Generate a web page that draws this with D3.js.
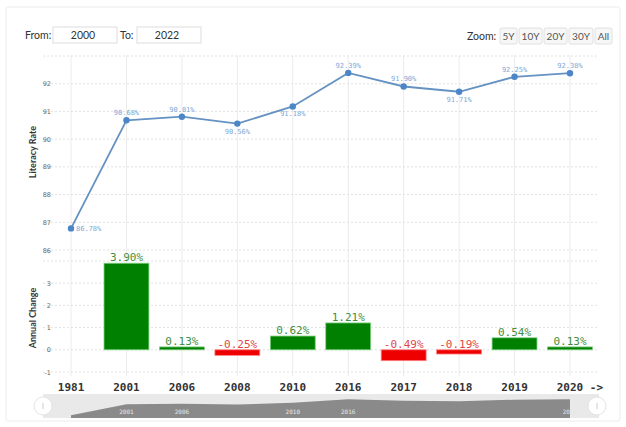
<!DOCTYPE html>
<html>
<head>
<meta charset="utf-8">
<script src="https://cdn.jsdelivr.net/npm/d3@7"></script>
<style>
  body { margin: 0; background: #fff; }
  svg { display: block; }
</style>
</head>
<body>
<svg width="626" height="427"></svg>
<script>
const YEARS = ['1981', '2001', '2006', '2008', '2010', '2016', '2017', '2018', '2019', '2020'];
const LITERACY = [86.78, 90.68, 90.81, 90.56, 91.18, 92.39, 91.90, 91.71, 92.25, 92.38];
const CHANGE = [null, 3.90, 0.13, -0.25, 0.62, 1.21, -0.49, -0.19, 0.54, 0.13];
const LABEL_SIDE = ['right', 'above', 'above', 'below', 'below', 'above', 'above', 'below', 'above', 'above'];
const RATE_TICKS = [86, 87, 88, 89, 90, 91, 92];
const CHANGE_TICKS = [-1, 0, 1, 2, 3];
const NAV_LABELS = ['2001', '2006', '2010', '2016', '2020'];
const ZOOM_BUTTONS = ['5Y', '10Y', '20Y', '30Y', 'All'];

const mono = "'DejaVu Sans Mono', monospace";
const sans = "Lato, 'Open Sans', sans-serif";

const svg = d3.select('svg');

// card
svg.append('rect')
    .attr('x', 6).attr('y', 7).attr('width', 614).attr('height', 414)
    .attr('rx', 2)
    .attr('fill', '#fff').attr('stroke', '#ececec');

// from / to inputs
const header = svg.append('g').attr('font-family', sans).attr('font-size', 10.5).attr('fill', '#333');
header.append('text').attr('x', 25).attr('y', 39).text('From:');
header.append('text').attr('x', 120).attr('y', 39).text('To:');
[[53, '2000'], [137, '2022']].forEach(([x, t]) => {
    header.append('rect').attr('x', x).attr('y', 27).attr('width', 64).attr('height', 16)
        .attr('fill', '#fff').attr('stroke', '#ddd');
    header.append('text').attr('x', x + 30).attr('y', 39).attr('text-anchor', 'middle').text(t);
});

// zoom buttons
header.append('text').attr('x', 467).attr('y', 40).text('Zoom:');
const btnW = [17, 23, 23, 24, 17];
let bx = 500;
ZOOM_BUTTONS.forEach((b, i) => {
    header.append('rect').attr('x', bx).attr('y', 28).attr('width', btnW[i]).attr('height', 16)
        .attr('rx', 2).attr('fill', '#f7f7f7').attr('stroke', '#e0e0e0');
    header.append('text').attr('x', bx + btnW[i] / 2).attr('y', 40)
        .attr('text-anchor', 'middle').attr('fill', '#555').attr('font-size', 10).text(b);
    bx += btnW[i] + 2;
});

// scales
const x = d3.scaleBand().domain(YEARS).range([43.3, 597.7]);
const cx = d => x(d) + x.bandwidth() / 2;
const yRate = d3.scaleLinear().domain([86, 93]).range([250, 56]);
const yChange = d3.scaleLinear().domain([-1, 4]).range([372, 261]);

// vertical grid
svg.append('g').selectAll('line').data(YEARS).join('line')
    .attr('x1', cx).attr('x2', cx).attr('y1', 55).attr('y2', 376)
    .attr('stroke', '#ebebeb');

// horizontal dotted grid
const hgrid = svg.append('g').attr('stroke', '#e2e2e2').attr('stroke-dasharray', '2,2');
hgrid.selectAll('.rg').data(d3.range(86, 94)).join('line')
    .attr('x1', 43).attr('x2', 598).attr('y1', d => yRate(d)).attr('y2', d => yRate(d));
hgrid.selectAll('.cg').data(d3.range(-1, 5)).join('line')
    .attr('x1', 43).attr('x2', 598).attr('y1', d => yChange(d)).attr('y2', d => yChange(d));

// y tick labels
const ticks = svg.append('g').attr('font-family', "'DejaVu Sans', sans-serif").attr('font-size', 6.5)
    .attr('fill', '#666').attr('text-anchor', 'end');
ticks.selectAll('.rt').data(RATE_TICKS).join('text')
    .attr('x', 51).attr('y', d => yRate(d) + 2.5).text(d => d);
ticks.selectAll('.ct').data(CHANGE_TICKS).join('text')
    .attr('x', 51).attr('y', d => yChange(d) + 2.5).text(d => d);

// axis titles
const titles = svg.append('g').attr('font-family', sans).attr('font-size', 9).attr('font-weight', 'bold')
    .attr('fill', '#333').attr('text-anchor', 'middle');
titles.append('text').attr('transform', 'translate(36,152) rotate(-90)').text('Literacy Rate');
titles.append('text').attr('transform', 'translate(36,318) rotate(-90)').text('Annual Change');

// line
const series = YEARS.map((yr, i) => ({ yr, v: LITERACY[i], side: LABEL_SIDE[i] }));
svg.append('path').datum(series)
    .attr('fill', 'none').attr('stroke', '#6592c2').attr('stroke-width', 1.8)
    .attr('d', d3.line().x(d => cx(d.yr)).y(d => yRate(d.v)));
svg.append('g').selectAll('circle').data(series).join('circle')
    .attr('cx', d => cx(d.yr)).attr('cy', d => yRate(d.v)).attr('r', 3.2)
    .attr('fill', '#4a86c8');
svg.append('g').attr('font-family', mono).attr('font-size', 7).attr('fill', '#7ea8d6')
    .selectAll('text').data(series).join('text')
    .attr('x', d => d.side === 'right' ? cx(d.yr) + 5 : cx(d.yr))
    .attr('y', d => d.side === 'above' ? yRate(d.v) - 5 : d.side === 'below' ? yRate(d.v) + 10 : yRate(d.v) + 2.5)
    .attr('text-anchor', d => d.side === 'right' ? 'start' : 'middle')
    .text(d => d.v.toFixed(2) + '%');

// bars
const bars = YEARS.map((yr, i) => ({ yr, v: CHANGE[i] })).filter(d => d.v !== null);
const bw = x.bandwidth() * 0.81;
svg.append('g').selectAll('rect').data(bars).join('rect')
    .attr('x', d => cx(d.yr) - bw / 2)
    .attr('y', d => yChange(Math.max(0, d.v)))
    .attr('width', bw)
    .attr('height', d => Math.max(2, Math.abs(yChange(d.v) - yChange(0))))
    .attr('fill', d => d.v >= 0 ? '#008000' : '#ee0000')
    .attr('stroke', d => d.v >= 0 ? '#7fd07f' : '#ff8080').attr('stroke-width', 0.8);
svg.append('g').attr('font-family', mono).attr('font-size', 11).attr('text-anchor', 'middle')
    .selectAll('text').data(bars).join('text')
    .attr('x', d => cx(d.yr))
    .attr('y', d => yChange(Math.max(0, d.v)) - 2)
    .attr('fill', d => d.v >= 0 ? '#3f8f3f' : '#e04848')
    .text(d => d.v.toFixed(2) + '%');

// x labels
const xl = svg.append('g').attr('font-family', mono).attr('font-size', 11).attr('font-weight', 'bold').attr('fill', '#333');
xl.selectAll('text').data(YEARS).join('text')
    .attr('x', d => d === YEARS[YEARS.length - 1] ? cx(d) - 13.3 : cx(d))
    .attr('y', 391)
    .attr('text-anchor', d => d === YEARS[YEARS.length - 1] ? 'start' : 'middle')
    .text(d => d === YEARS[YEARS.length - 1] ? d + ' ->' : d);

// navigator
const yNav = d3.scaleLinear().domain([86.5, 92.5]).range([416, 399]);
svg.append('rect').attr('x', 43).attr('y', 394).attr('width', 556).attr('height', 24).attr('fill', '#e9e9e9');
svg.append('path').datum(series)
    .attr('fill', '#8a8a8a')
    .attr('d', d3.area().x(d => cx(d.yr)).y0(418).y1(d => yNav(d.v)));
svg.append('g').attr('font-family', mono).attr('font-size', 6).attr('fill', '#e8e8e8').attr('text-anchor', 'middle')
    .selectAll('text').data(NAV_LABELS).join('text')
    .attr('x', cx).attr('y', 414).text(d => d);
svg.append('g').selectAll('circle').data([43, 597]).join('circle')
    .attr('cx', d => d).attr('cy', 406).attr('r', 9)
    .attr('fill', '#fff').attr('stroke', '#e4e4e4');
svg.append('g').selectAll('line').data([43, 597]).join('line')
    .attr('x1', d => d).attr('x2', d => d).attr('y1', 403).attr('y2', 409)
    .attr('stroke', '#ccc');
</script>
</body>
</html>
